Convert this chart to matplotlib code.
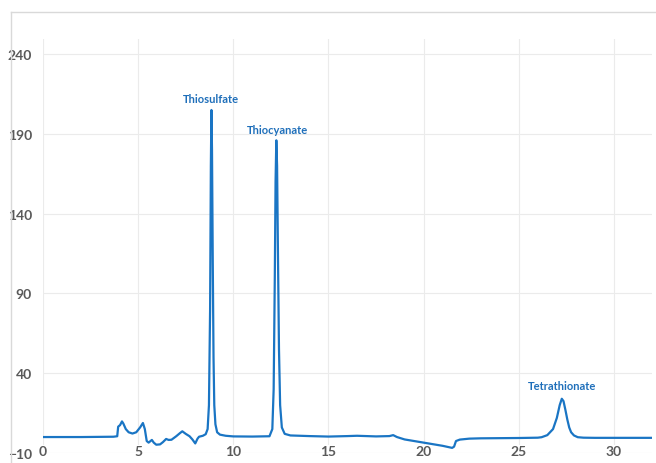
import matplotlib
matplotlib.use("Agg")
import matplotlib.pyplot as plt
from matplotlib.lines import Line2D

# retention time (min) and detector signal
time = [0.0, 2.0, 3.7, 3.9, 3.95, 4.05, 4.15, 4.22, 4.35, 4.5, 4.7, 4.9, 5.1, 5.25,
        5.35, 5.45, 5.55, 5.65, 5.72, 5.82, 5.95, 6.15, 6.3, 6.47, 6.6, 6.75, 7.0,
        7.2, 7.32, 7.5, 7.7, 7.85, 8.0, 8.12, 8.2, 8.4, 8.55, 8.65, 8.72, 8.78,
        8.82, 8.85, 8.88, 8.92, 8.96, 9.0, 9.06, 9.15, 9.3, 9.6, 10.0, 11.0, 11.9,
        12.05, 12.12, 12.18, 12.22, 12.26, 12.3, 12.35, 12.4, 12.46, 12.55, 12.7,
        13.0, 14.0, 15.0, 16.0, 16.5, 17.5, 18.2, 18.4, 18.6, 19.0, 20.0, 21.0,
        21.5, 21.6, 21.7, 21.9, 22.4, 23.0, 25.0, 26.0, 26.2, 26.5, 26.8, 27.0,
        27.15, 27.26, 27.35, 27.45, 27.55, 27.65, 27.75, 27.9, 28.1, 28.4, 29.0,
        32.0]
signal = [0.0, 0.0, 0.2, 0.5, 6.5, 7.5, 9.8, 8.5, 5.0, 3.0, 2.2, 3.0, 6.0, 8.8,
          5.0, -2.5, -3.5, -2.5, -1.8, -3.5, -4.8, -4.6, -3.2, -1.2, -1.8, -1.7, 0.5,
          2.5, 3.6, 2.0, 0.5, -1.5, -4.0, -1.0, 0.2, 0.8, 1.8, 5.0, 20.0, 80.0,
          170.0, 205.0, 180.0, 110.0, 50.0, 20.0, 8.0, 3.0, 1.5, 0.8, 0.4, 0.3, 0.5,
          5.0, 30.0, 100.0, 160.0, 186.0, 170.0, 110.0, 55.0, 20.0, 6.0, 2.0,
          1.0, 0.6, 0.3, 0.6, 0.8, 0.4, 0.6, 1.2, 0.0, -1.5, -3.5, -5.5,
          -6.8, -6.0, -2.5, -1.6, -1.0, -0.8, -0.6, -0.4, -0.1, 1.2, 5.0, 12.0,
          20.0, 24.0, 22.5, 17.0, 11.0, 6.0, 3.0, 1.0, -0.1, -0.4, -0.5,
          -0.5]

peak_names = ["Thiosulfate", "Thiocyanate", "Tetrathionate"]
peak_x = [8.84, 12.3, 27.3]
peak_label_y = [212.5, 193.0, 32.0]

x_ticks = [0, 5, 10, 15, 20, 25, 30]
y_ticks = [-10, 40, 90, 140, 190, 240]

blue = "#1a75c4"
label_blue = "#1f6fba"
grid_c = "#ebebeb"
tick_c = "#595959"

plt.rcParams['font.family'] = ['Lato', 'DejaVu Sans']

fig = plt.figure(figsize=(6.56, 4.64), dpi=100)
ax = fig.add_axes([43 / 656, 1 - 454 / 464, (652 - 43) / 656, 414 / 464])

ax.plot(time, signal, color=blue, linewidth=1.6, zorder=3)

for name, px, py in zip(peak_names, peak_x, peak_label_y):
    ax.text(px, py, name, color=label_blue, fontsize=8, fontweight='bold',
            ha='center', va='center', zorder=4)

ax.set_xlim(0, 32)
ax.set_ylim(-10, 249.5)
ax.set_xticks(x_ticks)
ax.set_yticks(y_ticks)
ax.grid(True, color=grid_c, linewidth=0.8, zorder=0)
ax.set_axisbelow(True)
for s in ax.spines.values():
    s.set_visible(False)

ax.tick_params(axis='both', length=0, labelsize=10, labelcolor=tick_c)
ax.tick_params(axis='x', pad=-5.5)
ax.tick_params(axis='y', pad=8)
for lbl in ax.get_xticklabels() + ax.get_yticklabels():
    lbl.set_fontweight('bold')
for lbl in ax.get_xticklabels():
    lbl.set_bbox(dict(facecolor='white', edgecolor='none', pad=0.5))

# light frame of the chart area
fig.add_artist(Line2D([11 / 656, 11 / 656], [0, 1 - 13 / 464], color="#d9d9d9", linewidth=1))
fig.add_artist(Line2D([11 / 656, 1], [1 - 13 / 464, 1 - 13 / 464], color="#d9d9d9", linewidth=1))

fig.savefig("out.png", dpi=100)
